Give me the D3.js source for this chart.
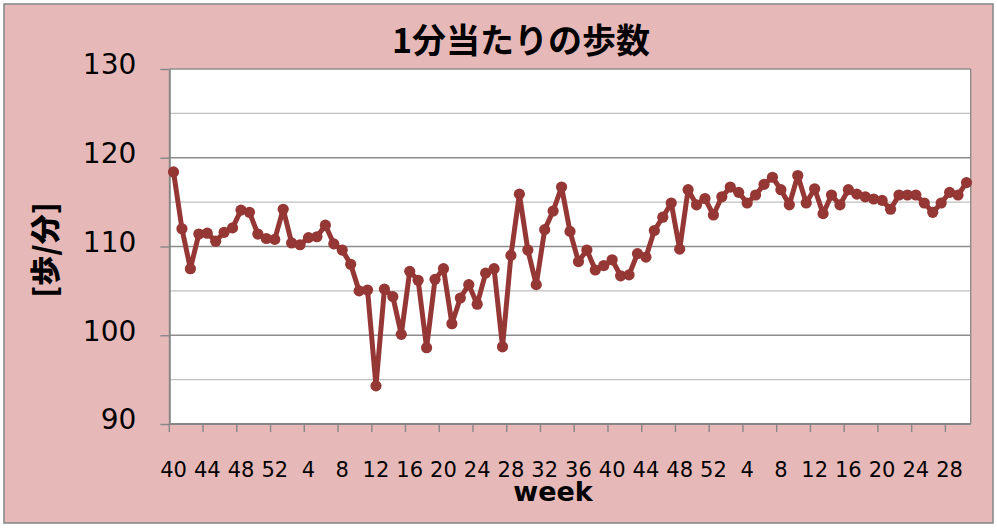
<!DOCTYPE html>
<html><head><meta charset="utf-8">
<script src="https://cdn.jsdelivr.net/npm/d3@7/dist/d3.min.js"></script>
<style>body{margin:0;background:#fff;}svg{display:block;}</style>
</head><body>
<svg id="c" width="997" height="528"></svg>
<script>
const title = "1分当たりの歩数";
const yTitle = "[歩/分]";
const xTitle = "week";
const categories = [40,41,42,43,44,45,46,47,48,49,50,51,52,
 1,2,3,4,5,6,7,8,9,10,11,12,13,14,15,16,17,18,19,20,21,22,23,24,25,26,27,28,29,30,31,32,33,34,35,36,37,38,39,40,41,42,43,44,45,46,47,48,49,50,51,52,
 1,2,3,4,5,6,7,8,9,10,11,12,13,14,15,16,17,18,19,20,21,22,23,24,25,26,27,28,29,30];
const steps = [118.4,112.0,107.5,111.4,111.5,110.6,111.6,112.1,114.1,113.85,
 111.4,110.9,110.8,114.2,110.4,110.2,111.0,111.1,112.4,110.3,
 109.6,108.0,105.0,105.1,94.3,105.2,104.35,100.1,107.2,106.2,
 98.6,106.3,107.5,101.3,104.2,105.7,103.5,107.0,107.5,98.7,
 109.0,115.9,109.6,105.7,111.9,114.0,116.7,111.7,108.3,109.6,
 107.35,107.85,108.5,106.7,106.8,109.2,108.8,111.8,113.3,114.9,
 109.7,116.4,114.7,115.4,113.55,115.6,116.7,116.1,114.9,115.8,
 117.0,117.8,116.4,114.7,118.0,114.9,116.5,113.7,115.8,114.7,
 116.4,115.9,115.6,115.35,115.2,114.2,115.8,115.8,115.8,114.9,
 113.85,114.9,116.1,115.8,117.2];
const yMajorTicks = [90,100,110,120,130];
const yMinorTicks = [95,105,115,125];

const svg = d3.select("#c");
const L = 169.3, R = 970.7, T = 69, B = 424;
const idx = d3.range(categories.length);
const x = d3.scaleBand().domain(idx).range([L, R]).padding(0);
const y = d3.scaleLinear().domain([90,130]).range([B, T]);

// background
svg.append("rect").attr("x",4).attr("y",4).attr("width",989).attr("height",519)
  .attr("fill","#e6b9b8").attr("stroke","#8a8a8a").attr("stroke-width",1.6);
svg.append("rect").attr("x",L).attr("y",T).attr("width",R-L).attr("height",B-T).attr("fill","#fff");

// gridlines
svg.append("g").selectAll("line").data(yMinorTicks).join("line")
  .attr("x1",L).attr("x2",R).attr("y1",d=>y(d)).attr("y2",d=>y(d))
  .attr("stroke","#bfbfbf").attr("stroke-width",1.4);
svg.append("g").selectAll("line").data(yMajorTicks).join("line")
  .attr("x1",L).attr("x2",R).attr("y1",d=>y(d)).attr("y2",d=>y(d))
  .attr("stroke","#8c8c8c").attr("stroke-width",1.4);
// right border
svg.append("line").attr("x1",R).attr("x2",R).attr("y1",T).attr("y2",B)
  .attr("stroke","#8c8c8c").attr("stroke-width",1.4);

// y axis
const yAxis = d3.axisLeft(y).tickValues(yMajorTicks).tickSize(9).tickSizeOuter(0).tickPadding(24);
const gy = svg.append("g").attr("transform",`translate(${L},0)`).call(yAxis);
gy.select(".domain").attr("stroke","#868686").attr("stroke-width",2);
gy.selectAll(".tick line").attr("stroke","#868686").attr("stroke-width",1.4);
gy.selectAll(".tick text").attr("font-family","DejaVu Sans").attr("font-size",28)
  .attr("fill","#000").attr("dy","0.32em").attr("y",-4);

// x axis: ticks at category boundaries every 4
const tickIdx = idx.filter(i => i % 4 === 0);
const gx = svg.append("g");
gx.append("line").attr("x1",L).attr("x2",R).attr("y1",B).attr("y2",B)
  .attr("stroke","#868686").attr("stroke-width",2);
gx.selectAll("line.tk").data(tickIdx).join("line").attr("class","tk")
  .attr("x1",i=>x(i)).attr("x2",i=>x(i)).attr("y1",B).attr("y2",B+8)
  .attr("stroke","#868686").attr("stroke-width",1.4);
gx.selectAll("text").data(tickIdx).join("text")
  .attr("x",i=>x(i)+x.bandwidth()/2).attr("y",477)
  .attr("text-anchor","middle").attr("font-family","DejaVu Sans").attr("font-size",21)
  .attr("fill","#000").text(i=>categories[i]);

// line
const line = d3.line().x((d,i)=>x(i)+x.bandwidth()/2).y(d=>y(d));
svg.append("path").datum(steps).attr("d",line).attr("fill","none")
  .attr("stroke","#953735").attr("stroke-width",5).attr("stroke-linejoin","round");
svg.append("g").selectAll("circle").data(steps).join("circle")
  .attr("cx",(d,i)=>x(i)+x.bandwidth()/2).attr("cy",d=>y(d)).attr("r",5.6)
  .attr("fill","#953735");

// titles
svg.append("text").attr("x",521).attr("y",53).attr("text-anchor","middle")
  .attr("font-family","Noto Sans CJK JP").attr("font-weight","bold").attr("font-size",34)
  .attr("fill","#000").text(title);
svg.append("text").attr("transform","translate(56,250) rotate(-90)").attr("text-anchor","middle")
  .attr("font-family","Noto Sans CJK JP").attr("font-weight","900").attr("font-size",30)
  .attr("fill","#000").text(yTitle);
svg.append("text").attr("x",553).attr("y",501).attr("text-anchor","middle")
  .attr("font-family","DejaVu Sans").attr("font-weight","bold").attr("font-size",27)
  .attr("fill","#000").text(xTitle);
</script>
</body></html>
